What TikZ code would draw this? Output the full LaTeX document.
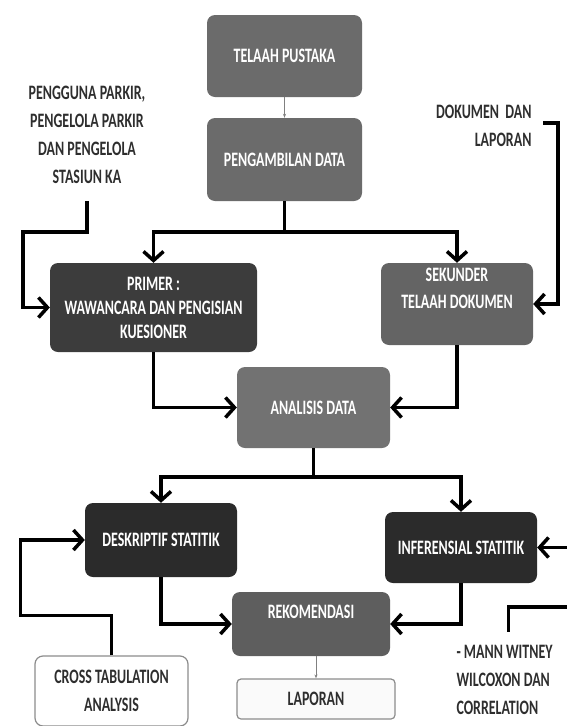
\documentclass[tikz,border=0pt]{standalone}
\usepackage{fontspec}
\setmainfont{Carlito}[FakeStretch=0.68]
\usetikzlibrary{arrows.meta}
\definecolor{boxmid}{HTML}{6B6B6B}
\definecolor{boxdark}{HTML}{3C3C3C}
\definecolor{boxsek}{HTML}{646464}
\definecolor{boxana}{HTML}{727272}
\definecolor{boxblack}{HTML}{2B2B2B}
\definecolor{boxrek}{HTML}{5E5E5E}
\definecolor{txtgray}{HTML}{2E2E2E}
\definecolor{edgegray}{HTML}{8C8C8C}
\begin{document}
\begin{tikzpicture}[x=1pt,y=-1pt]
  \tikzset{fbox/.style={rectangle,rounded corners=8pt,text=white,align=center,inner sep=2pt,font=\bfseries\fontsize{20.5}{24}\selectfont},
    wbox/.style={rectangle,rounded corners=8pt,draw=edgegray,line width=1.2pt,fill=white,text=txtgray,align=center,font=\bfseries\fontsize{20.5}{28}\selectfont},
    lbl/.style={text=txtgray,align=center,font=\bfseries\fontsize{20.5}{28}\selectfont},
    flow/.style={line width=3.5pt,-{Straight Barb[length=9pt,width=20pt]}},
    slim/.style={draw=gray,line width=0.8pt,-{Stealth[length=4pt,width=3pt]}}}
  \useasboundingbox (0,0) rectangle (567,726);
  \node[fbox,fill=boxmid,minimum width=155pt,minimum height=82pt] (telaah) at (284.5,56) {TELAAH PUSTAKA};
  \node[fbox,fill=boxmid,minimum width=155pt,minimum height=83pt] (ambil) at (284.5,159.5) {PENGAMBILAN DATA};
  \node[fbox,fill=boxdark,minimum width=207pt,minimum height=89pt] (primer) at (153.5,307.5) {PRIMER :\\WAWANCARA DAN PENGISIAN\\KUESIONER};
  \node[fbox,fill=boxsek,minimum width=152pt,minimum height=82pt] (sekunder) at (457,304) {SEKUNDER\\[3pt]TELAAH DOKUMEN\\\strut};
  \node[fbox,fill=boxana,minimum width=153pt,minimum height=81pt] (analisis) at (313.5,407.5) {ANALISIS DATA};
  \node[fbox,fill=boxblack,minimum width=152pt,minimum height=74pt] (deskriptif) at (161,540) {DESKRIPTIF STATITIK};
  \node[fbox,fill=boxblack,minimum width=152pt,minimum height=71pt] (inferensial) at (461,547.5) {INFERENSIAL STATITIK};
  \node[fbox,fill=boxrek,minimum width=158pt,minimum height=64pt] (rekomendasi) at (311,624) {REKOMENDASI\\[-6pt]\strut};
  \node[wbox,fill=gray!4,rounded corners=4pt,minimum width=158pt,minimum height=40pt] (laporan) at (316,699) {LAPORAN};
  \node[wbox,minimum width=153pt,minimum height=70pt] (cross) at (111.5,691) {CROSS TABULATION\\ANALYSIS};
  \node[lbl] (pengguna) at (87,134.5) {PENGGUNA PARKIR,\\PENGELOLA PARKIR\\DAN PENGELOLA\\STASIUN KA};
  \node[lbl,align=right,anchor=east] (dokumen) at (535,126) {DOKUMEN\ \ DAN\\LAPORAN};
  \node[lbl,align=left,anchor=west] (mann) at (453,680) {- MANN WITNEY\\WILCOXON DAN\\CORRELATION};
  \coordinate (split1) at (284.5,232);
  \coordinate (split2) at (313.5,477);
  \draw[slim] (telaah) -- (ambil);
  \draw[flow] (ambil.south) -- (split1) -| (primer.north);
  \draw[flow] (split1) -| (sekunder.north);
  \draw[flow] ([yshift=-14pt]pengguna.south) -- ++(0,31) -- ++(-64,0) |- (primer.west);
  \draw[flow] ([xshift=8pt,yshift=3pt]dokumen.east) -- ++(15,0) |- (sekunder.east);
  \draw[flow] (primer.south) |- (analisis.west);
  \draw[flow] (sekunder.south) |- (analisis.east);
  \draw[flow] (analisis.south) -- (split2) -| (deskriptif.north);
  \draw[flow] (split2) -| (inferensial.north);
  \draw[flow] (deskriptif.south) |- (rekomendasi.west);
  \draw[flow] (inferensial.south) |- (rekomendasi.east);
  \draw[flow] (cross.north) -- ++(0,-40) -- ++(-91,0) |- (deskriptif.west);
  \draw[flow] ([xshift=4pt,yshift=10pt]mann.north) -- ++(0,-25) -- ++(67,0) |- (inferensial.east);
  \draw[slim] (laporan.north |- rekomendasi.south) -- (laporan.north);
\end{tikzpicture}
\end{document}
